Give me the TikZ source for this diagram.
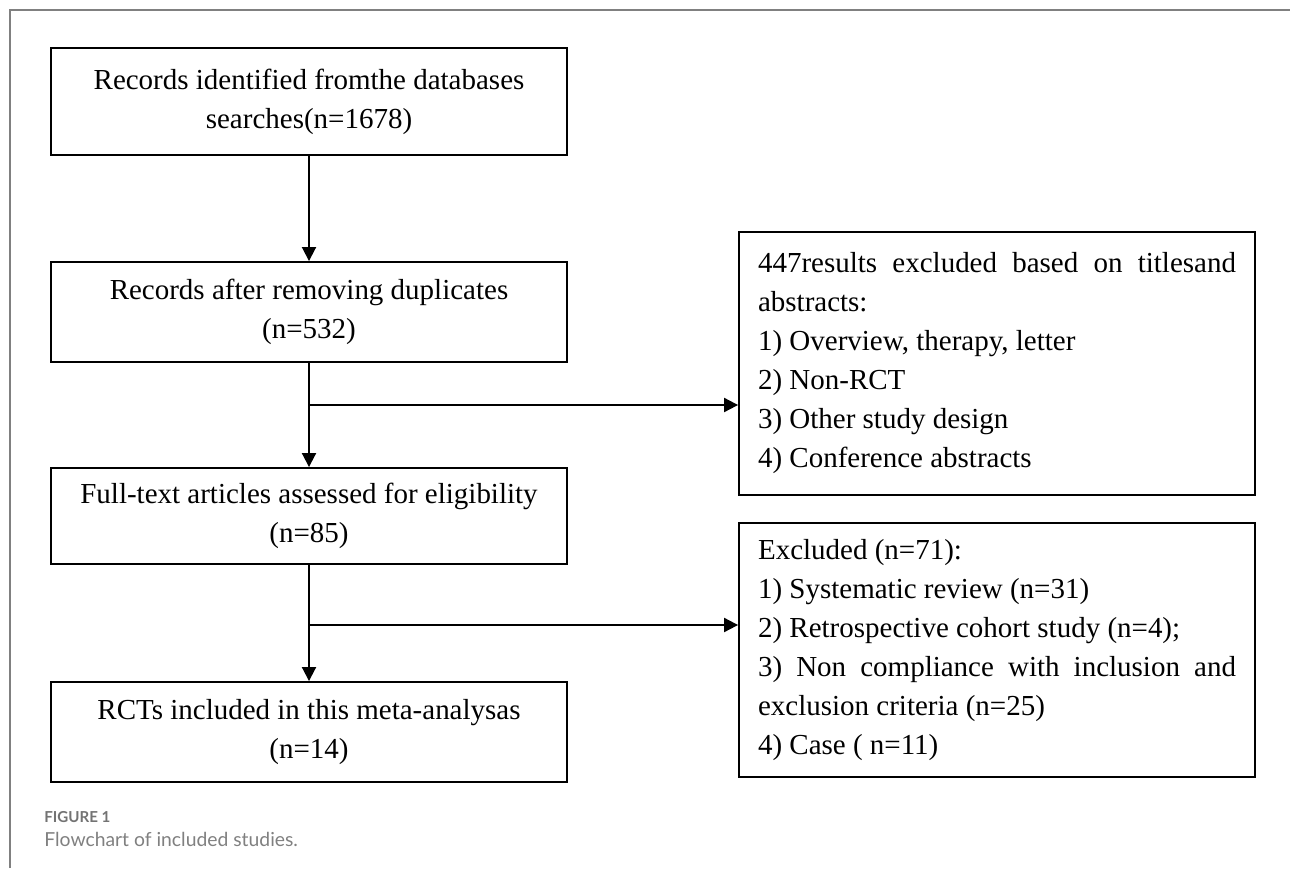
\documentclass[tikz,border=0pt]{standalone}
\usepackage{fontspec}
\setmainfont{Liberation Serif}
\newfontfamily\capfont{Lato}
\usetikzlibrary{arrows.meta}

\begin{document}
\begin{tikzpicture}[x=0.02cm,y=-0.02cm,>={Triangle[length=0.28cm,width=0.28cm]},
  box/.style={draw,line width=1.1pt,minimum width=10.32cm,minimum height=2cm,
    align=center,inner sep=0pt,font=\fontsize{16.5}{22.2}\selectfont},
  listbox/.style={draw,line width=1.1pt,text width=9.56cm,inner xsep=0.38cm,
    inner ysep=0pt,align=justify,font=\fontsize{16.5}{22.2}\selectfont},
  link/.style={->,line width=1.1pt},
  frame/.style={black!50,line width=0.03cm}]
  \useasboundingbox (0,0) rectangle (1290,868);
  \draw[frame] (10,868) -- (10,10) -- (1290,10);

  % main column
  \node[box,minimum height=2.14cm] (rec) at (309,101.5) {Records identified fromthe databases\\ searches(n=1678)};
  \node[box] (dedup) at (309,312) {Records after removing duplicates\\ (n=532)};
  \node[box,minimum height=1.92cm] (full) at (309,516) {Full-text articles assessed for eligibility\\ (n=85)};
  \node[box] (incl) at (309,732) {RCTs included in this meta-analysas\\ (n=14)};

  % exclusions
  \node[listbox,minimum height=5.26cm] (excl1) at (997,363.5) {447results excluded based on titlesand\linebreak
    abstracts:\\ 1) Overview, therapy, letter\\ 2) Non-RCT\\ 3) Other study design\\ 4) Conference abstracts};
  \node[listbox,minimum height=5.08cm] (excl2) at (997,650) {Excluded (n=71):\\ 1) Systematic review (n=31)\\
    2) Retrospective cohort study (n=4);\\ 3) Non compliance with inclusion and\linebreak
    exclusion criteria (n=25)\\ 4) Case ( n=11)};

  \coordinate (j1) at (309,405);
  \coordinate (j2) at (309,625);
  \draw[link] (rec) -- (dedup);
  \draw[link] (dedup) -- (full);
  \draw[link] (j1) -- (j1 -| excl1.west);
  \draw[link] (full) -- (incl);
  \draw[link] (j2) -- (j2 -| excl2.west);

  % caption
  \node[anchor=base west,inner sep=0pt,text=black!55,font=\capfont\bfseries\fontsize{8.6}{10}\selectfont] (figno) at (44,822) {FIGURE 1};
  \node[anchor=base west,inner sep=0pt,text=black!50,font=\capfont\fontsize{11}{13}\selectfont] (figtext) at (44,846) {Flowchart of included studies.};
\end{tikzpicture}
\end{document}
